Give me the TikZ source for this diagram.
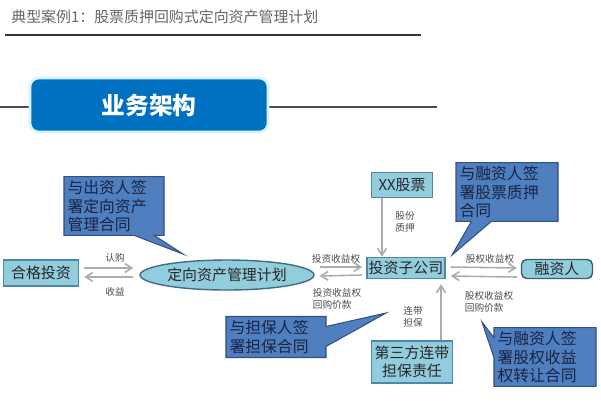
\documentclass[tikz,border=0pt]{standalone}
\usepackage{fontspec}
\setmainfont{Noto Sans CJK SC}
\usepackage{tikz}
\usetikzlibrary{arrows.meta, positioning, shapes.geometric, shapes.callouts}
\usepackage{xcolor}

\definecolor{headblue}{RGB}{0,112,192}
\definecolor{boxfill}{RGB}{146,205,222}
\definecolor{boxline}{RGB}{80,135,165}
\definecolor{callfill}{RGB}{79,127,190}
\definecolor{callline}{RGB}{50,80,130}
\definecolor{calltext}{RGB}{25,35,70}

\tikzset{
  party/.style={draw=boxline, fill=boxfill, line width=0.8pt, inner sep=1pt,
    text=black!85, font=\fontsize{8.5}{10}\selectfont},
  note/.style={rectangle callout, draw=callline, fill=callfill, line width=0.6pt,
    callout pointer width=0.4cm, align=left, inner sep=2pt, text=calltext,
    font=\fontsize{9}{10.5}\selectfont},
  flow/.style={draw=gray!65, line width=0.9pt, -{Straight Barb[length=4pt, width=5pt]}},
  tag/.style={font=\fontsize{5.5}{7}\selectfont, text=black!70, align=left, inner sep=0pt}
}

\begin{document}
\begin{tikzpicture}[x=0.02cm, y=-0.02cm]
      \useasboundingbox (0,0) rectangle (601,414);

      % header
      \node[anchor=west, text=black!60, font=\fontsize{8.5}{10}\selectfont, inner sep=0pt]
        (title) at (11,17) {典型案例1：股票质押回购式定向资产管理计划};
      \draw[black!80, line width=1pt] (5,35) -- (421,35);
      \draw[black!70, line width=0.8pt] (0,107) -- (437,107);
      \node[draw=cyan!15, fill=headblue, line width=1.5pt, rounded corners=5pt,
        minimum width=4.76cm, minimum height=1.08cm, text=white,
        font=\fontsize{13.5}{15}\selectfont\bfseries] (head) at (149,105) {业务架构};

      % main parties
      \node[party, minimum width=1.5cm, minimum height=0.52cm] (investor) at (41,273) {合格投资};
      \node[party, ellipse, minimum width=3cm, minimum height=0.6cm, draw=boxline!80!black]
        (plan) at (227,275) {定向资产管理计划};
      \node[party, minimum width=1.54cm, minimum height=0.42cm] (sub) at (406,268) {投资子公司};
      \node[party, minimum width=1.22cm, minimum height=0.5cm] (stock) at (402,185) {XX股票};
      \node[party, rounded corners=3pt, draw=boxline!70!black, minimum width=1.42cm,
        minimum height=0.38cm] (borrower) at (557,269) {融资人};
      \node[party, align=center, minimum width=1.62cm, minimum height=0.84cm,
        font=\fontsize{8.5}{10.5}\selectfont] (guarantor) at (412,362) {第三方连带\\担保责任};

      % flows
      \draw[flow] ([shift={(5,-5)}]investor.east) -- ([shift={(-6,-7)}]plan.west);
      \draw[flow] ([shift={(-6,2)}]plan.west) -- ([shift={(5,4)}]investor.east);
      \draw[flow] ([shift={(5,-8)}]plan.east) -- ([shift={(-4,-1)}]sub.west);
      \draw[flow] ([shift={(-4,7)}]sub.west) -- ([shift={(5,1)}]plan.east);
      \draw[flow] ([shift={(5,-1)}]sub.east) -- ([shift={(-4,-1)}]borrower.west);
      \draw[flow] ([shift={(-4,8)}]borrower.west) -- ([shift={(5,8)}]sub.east);
      \draw[flow] ([xshift=-20*0.02cm]stock.south) -- ([xshift=-24*0.02cm]sub.north);
      \draw[flow] ([xshift=29*0.02cm]guarantor.north) -- ([shift={(35,5)}]sub.south);

      % flow labels
      \node[tag] (buy) at (115,258) {认购};
      \node[tag] (gain) at (115,292) {收益};
      \node[tag] (right) at (336,259) {投资收益权};
      \node[tag] (rightback) at (337,299) {投资收益权\\回购价款};
      \node[tag] (equity) at (490,259) {股权收益权};
      \node[tag] (equityback) at (489,302) {股权收益权\\回购价款};
      \node[tag] (pledge) at (405,222) {股份\\质押};
      \node[tag] (joint) at (413,317) {连带\\担保};

      % contract notes
      \node[note, text width=1.86cm, minimum height=1.14cm, callout absolute pointer={(183,254)}]
        (signplan) at (114,206) {与出资人签\\署定向资产\\管理合同};
      \node[note, text width=1.9cm, minimum height=1.1cm, callout absolute pointer={(452,255)}]
        (signpledge) at (507,192) {与融资人签\\署股票质押\\合同};
      \node[note, text width=1.86cm, minimum height=0.82cm, callout absolute pointer={(386,313)}]
        (signguar) at (276,337) {与担保人签\\署担保合同};
      \node[note, text width=1.9cm, minimum height=1.1cm, callout absolute pointer={(482,322)}]
        (signtransfer) at (545,357) {与融资人签\\署股权收益\\权转让合同};
    \end{tikzpicture}
\end{document}
